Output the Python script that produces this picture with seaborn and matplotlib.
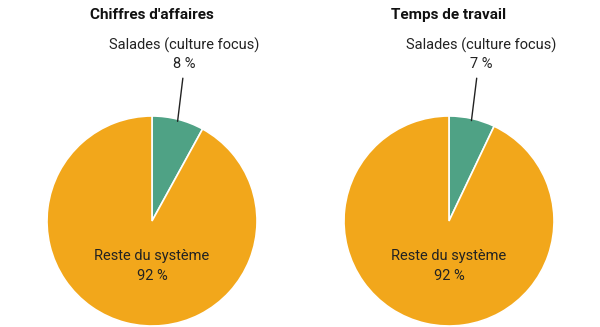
import matplotlib
matplotlib.use("Agg")
import matplotlib.pyplot as plt
import numpy as np
import seaborn as sns

sns.set_theme(style="white")
plt.rcParams["font.family"] = ["Roboto", "DejaVu Sans"]

titles = ["Chiffres d'affaires", "Temps de travail"]
categories = ["Salades (culture focus)", "Reste du système"]
salades_share = [8, 7]
reste_share = [92, 92]

colors = ["#4fa285", "#f2a71b"]

fig = plt.figure(figsize=(6.0, 3.27), dpi=100)
W, H = 600, 327
radius_px = 105
centers = [(152, 221), (449, 221)]

for i, (cx, cy) in enumerate(centers):
    ax = fig.add_axes([(cx - radius_px) / W, (H - cy - radius_px) / H,
                       2 * radius_px / W, 2 * radius_px / H])
    vals = [salades_share[i], reste_share[i]]
    ax.pie(vals, colors=colors, startangle=90, counterclock=False,
           radius=1.0, wedgeprops=dict(edgecolor="white", linewidth=1.2))
    ax.set_xlim(-1, 1)
    ax.set_ylim(-1, 1)
    ax.set_aspect("equal")
    ax.axis("off")

    ax.text(0.0, 1.96, titles[i], ha="center", va="center",
            fontsize=11, fontweight="bold", color="#111111")

    ax.text(0.31, 1.675, categories[0], ha="center", va="center",
            fontsize=10.5, color="#222222")
    ax.text(0.31, 1.50, f"{salades_share[i]} %", ha="center", va="center",
            fontsize=10.5, color="#222222")

    # leader line from the label to the middle of the green wedge
    mid = np.deg2rad(90 - 360 * salades_share[i] / 100 / 2)
    ex, ey = np.cos(mid) * 0.98, np.sin(mid) * 0.98
    ax.plot([ex + 0.05, ex], [1.36, ey], color="#222222", lw=1.0,
            clip_on=False)

    ax.text(0.0, -0.33, categories[1], ha="center", va="center",
            fontsize=10.5, color="#222222")
    ax.text(0.0, -0.52, f"{reste_share[i]} %", ha="center", va="center",
            fontsize=10.5, color="#222222")

fig.savefig("out.png", dpi=100, facecolor="white")
